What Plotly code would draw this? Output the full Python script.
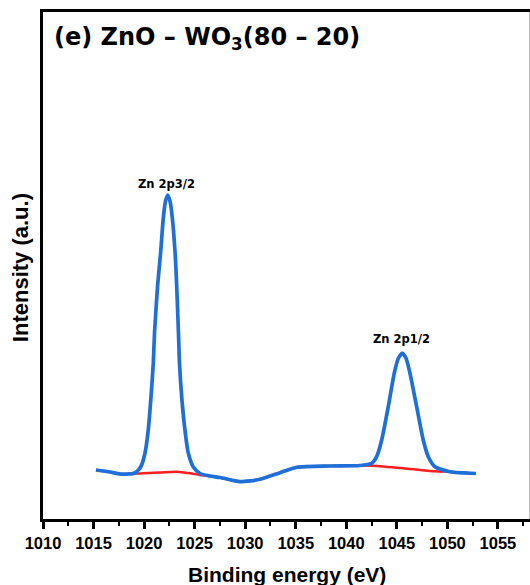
import plotly.graph_objects as go

# ---- data ----
energy = [1015.24, 1016.63, 1017.62, 1018.41, 1019.10, 1019.66, 1020.09, 1020.41, 1020.68,
          1020.91, 1021.03, 1021.34, 1021.64, 1021.90, 1022.12, 1022.33, 1022.56, 1022.79,
          1023.06, 1023.22, 1023.40, 1023.50, 1023.72, 1024.04, 1024.37, 1024.87, 1025.53,
          1026.52, 1027.51, 1029.48, 1031.46, 1033.44, 1035.12, 1038.38, 1041.35, 1042.51,
          1043.00, 1043.50, 1044.15, 1044.74, 1045.16, 1045.54, 1045.90, 1046.30, 1046.96,
          1047.61, 1048.11, 1048.77, 1050.25, 1052.82]
intensity = [49, 47, 45, 45, 46, 52, 66, 89, 122,
             156, 186, 234, 267, 301, 318, 324, 318, 301,
             267, 234, 186, 156, 122, 89, 66, 52, 45.5,
             43, 41.5, 37.3, 39.7, 46.3, 51.7, 53, 53.5, 55.7,
             62.3, 79, 112.3, 145.7, 161, 165.7, 161, 145.7, 112.3,
             79, 62.3, 52.3, 47.3, 45.5]

bg_energy = [1015.24, 1016.63, 1017.62, 1018.41, 1019.10, 1019.30, 1021.57, 1023.25, 1024.54,
             1025.53, 1026.52, 1027.51, 1029.48, 1031.46, 1033.44, 1035.12, 1038.38, 1041.35,
             1042.66, 1045.63, 1047.95, 1049.26, 1050.25, 1052.82]
bg_intensity = [49, 47, 45, 45, 46, 45.5, 46.5, 47.3, 45.7,
                44, 43, 41.5, 37.3, 39.7, 46.3, 51.7, 53, 53.5,
                53.3, 50.7, 48.3, 47.5, 47.3, 45.5]

peak_labels = ["Zn 2p3/2", "Zn 2p1/2"]
peak_label_x = [1022.17, 1045.48]
peak_label_y = [335, 180]

x_ticks = [1010, 1015, 1020, 1025, 1030, 1035, 1040, 1045, 1050, 1055]

FONT = "Arial, Liberation Sans, sans-serif"
WIDE = "DejaVu Sans, sans-serif"

fig = go.Figure()
fig.add_trace(go.Scatter(x=bg_energy, y=bg_intensity, mode="lines",
                         line=dict(color="#FF1E1E", width=2.5, shape="spline", smoothing=0.6),
                         showlegend=False, hoverinfo="skip"))
fig.add_trace(go.Scatter(x=energy, y=intensity, mode="lines",
                         line=dict(color="#1F6FD8", width=3.7, shape="spline", smoothing=0.6),
                         showlegend=False))

for t, xv, yv in zip(peak_labels, peak_label_x, peak_label_y):
    fig.add_annotation(x=xv, y=yv, text=t, showarrow=False, xanchor="center", yanchor="middle",
                       font=dict(family=WIDE, size=11.5, color="black", weight="bold"))

fig.add_annotation(xref="paper", yref="paper", x=0.019, y=0.948, xanchor="left", yanchor="middle",
                   text="(e) ZnO – WO<sub>3</sub>(80 – 20)", showarrow=False,
                   font=dict(family=WIDE, size=24, color="black", weight="bold"))
fig.add_annotation(xref="paper", yref="paper", x=0.5, y=-0.1085, xanchor="center", yanchor="middle",
                   text="Binding energy (eV)", showarrow=False,
                   font=dict(family=FONT, size=21, color="black", weight="bold"))
fig.add_annotation(xref="paper", yref="paper", x=-0.047, y=0.495, xanchor="center", yanchor="middle",
                   text="Intensity (a.u.)", textangle=-90, showarrow=False,
                   font=dict(family=FONT, size=22, color="black", weight="bold"))

fig.add_shape(type="line", xref="paper", yref="paper", x0=0.999, x1=0.999, y0=0, y1=1.0,
              line=dict(color="#BDBDBD", width=1))

fig.update_layout(
    width=530, height=585,
    margin=dict(l=43, r=0, t=12, b=66),
    paper_bgcolor="white", plot_bgcolor="white",
    xaxis=dict(range=[1010, 1058.17], tickvals=x_ticks, ticks="outside", ticklen=7, tickwidth=2.5,
               tickcolor="black", showline=True, linewidth=2.5, linecolor="black", mirror=True,
               showgrid=False, zeroline=False,
               minor=dict(dtick=2.5, tick0=1010, ticks="outside", ticklen=4, tickwidth=2, tickcolor="black"),
               tickfont=dict(family=FONT, size=16.5, color="black", weight="bold")),
    yaxis=dict(range=[0, 507], showline=True, linewidth=2.5, linecolor="black", mirror=False,
               showticklabels=False, ticks="", showgrid=False, zeroline=False),
)

fig.write_html("out.html")
